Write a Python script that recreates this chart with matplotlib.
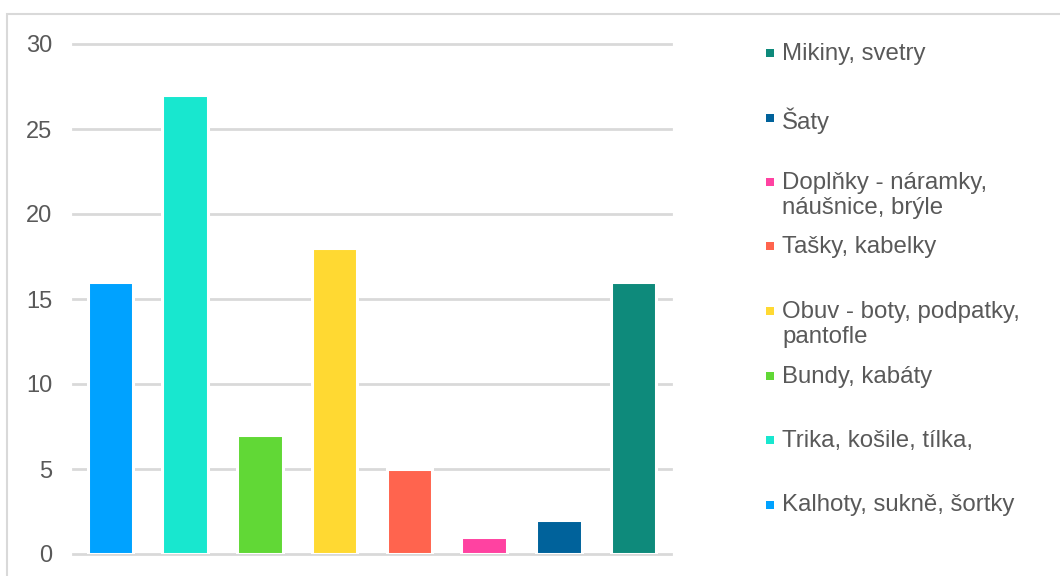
import matplotlib.pyplot as plt
import matplotlib.patches as mpatches

plt.rcParams['font.family'] = ['Liberation Sans', 'DejaVu Sans']

# categories in drawing order (left to right)
categories = ["Kalhoty, sukně, šortky", "Trika, košile, tílka,", "Bundy, kabáty",
              "Obuv - boty, podpatky,\npantofle", "Tašky, kabelky",
              "Doplňky - náramky,\nnáušnice, brýle", "Šaty", "Mikiny, svetry"]
counts = [16, 27, 7, 18, 5, 1, 2, 16]
colors = ["#00A2FF", "#18E7CF", "#61D836", "#FFD932", "#FF644E",
          "#FF42A1", "#00629B", "#0E8A7B"]
yticks = [0, 5, 10, 15, 20, 25, 30]

text_col = "#595959"
grid_col = "#D9D9D9"

fig = plt.figure(figsize=(10.6, 5.76), dpi=100)

# light frame around the chart area
fig.patches.append(mpatches.Rectangle((7 / 1060, -0.05), 1.2, 1 - 14 / 576 + 0.05,
                                      transform=fig.transFigure, fill=False,
                                      edgecolor="#D9D9D9", linewidth=1.5))

ax = fig.add_axes([73 / 1060, 1 - 554 / 576, (671 - 73) / 1060, (554 - 44) / 576])
x = range(len(counts))
ax.bar(x, counts, width=0.61, color=colors, edgecolor="white", linewidth=2.2, zorder=3)
ax.set_xlim(-0.5, len(counts) - 0.5)
ax.set_ylim(0, 30)
ax.set_yticks(yticks)
for t in yticks:
    ax.axhline(t, color=grid_col, linewidth=2, zorder=1, clip_on=False)
for s in ax.spines.values():
    s.set_visible(False)
ax.set_xticks([])
ax.tick_params(axis="y", length=0, pad=15, labelsize=17, labelcolor=text_col)

# legend, listed bottom-up like the bars from right to left
for i, idx in enumerate(reversed(range(len(categories)))):
    y = 1 - (53 + i * 64.5) / 576
    fig.patches.append(mpatches.Rectangle((766 / 1060, y - 4 / 576), 8 / 1060, 8 / 576,
                                          transform=fig.transFigure,
                                          facecolor=colors[idx], edgecolor="none"))
    fig.text(782 / 1060, y + 10 / 576, categories[idx], fontsize=17.3, color=text_col,
             va="top", ha="left", linespacing=1.2)

fig.savefig("out.png", dpi=100)
